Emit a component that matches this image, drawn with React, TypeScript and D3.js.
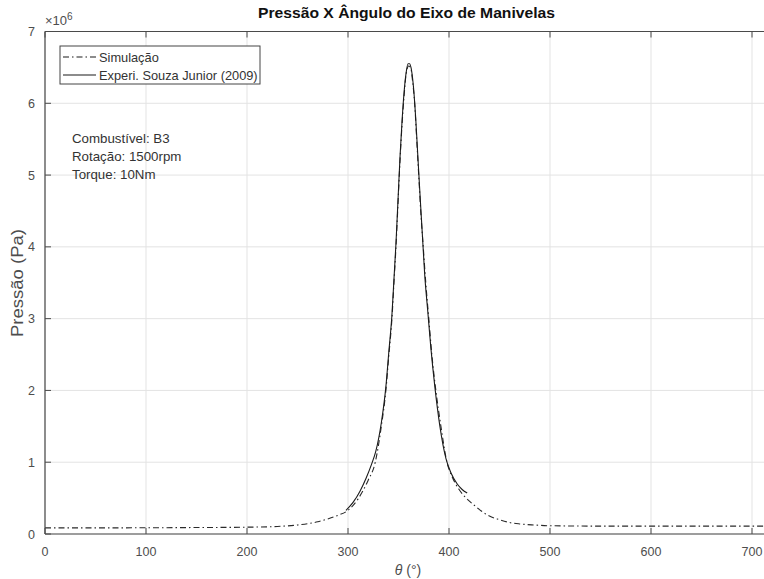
import React from "react";
import * as d3 from "d3";

const simTheta = [0, 50, 100, 150, 200, 230, 250, 270, 280, 290, 300, 310, 320, 327, 333, 337.5, 340.5, 343.5, 345.5, 347.5, 349.5, 351.5, 353.5, 355.5, 357.5, 360, 362, 364, 366, 368, 370, 372, 374.5, 377, 380, 383, 387, 392, 398, 403, 410, 417, 425, 432, 440, 450, 460, 470, 485, 500, 550, 600, 650, 720];
const simP = [0.085, 0.085, 0.087, 0.09, 0.095, 0.105, 0.125, 0.17, 0.21, 0.26, 0.33, 0.49, 0.75, 1.0, 1.5, 2.0, 2.5, 3.0, 3.5, 4.0, 4.6, 5.2, 5.7, 6.1, 6.4, 6.52, 6.5, 6.3, 6.0, 5.5, 5.0, 4.5, 4.0, 3.5, 3.0, 2.5, 2.0, 1.5, 1.0, 0.8, 0.62, 0.5, 0.4, 0.32, 0.25, 0.2, 0.16, 0.14, 0.125, 0.115, 0.11, 0.11, 0.11, 0.11];

const expTheta = [298, 305, 312, 318, 323, 327.5, 333, 337.5, 340.5, 343.5, 345.5, 347.5, 349.5, 351.5, 353.5, 355.5, 357.5, 359.5, 361, 363, 365, 367, 369, 371, 373.5, 376, 379, 382, 386, 391, 397, 402, 408, 413, 418];
const expP = [0.33, 0.44, 0.6, 0.78, 0.96, 1.15, 1.55, 2.05, 2.55, 3.05, 3.55, 4.05, 4.65, 5.25, 5.75, 6.15, 6.42, 6.55, 6.55, 6.45, 6.2, 5.8, 5.3, 4.8, 4.2, 3.6, 3.1, 2.6, 2.05, 1.5, 1.05, 0.85, 0.7, 0.62, 0.57];

const xTicks = [0, 100, 200, 300, 400, 500, 600, 700];
const yTicks = [0, 1, 2, 3, 4, 5, 6, 7];
const legendLabels = ["Simulação", "Experi. Souza Junior (2009)"];
const noteLines = ["Combustível: B3", "Rotação: 1500rpm", "Torque: 10Nm"];

export default function App() {
  const W = 764, H = 579;
  const L = 45, R = 772.2, T = 31.5, B = 534;
  const x = d3.scaleLinear().domain([0, 720]).range([L, R]);
  const y = d3.scaleLinear().domain([0, 7]).range([B, T]);
  const line = d3.line<[number, number]>().x(d => x(d[0])).y(d => y(d[1])).curve(d3.curveMonotoneX);
  const simPath = line(simTheta.map((t, i) => [t, simP[i]]) as [number, number][]) || "";
  const expPath = line(expTheta.map((t, i) => [t, expP[i]]) as [number, number][]) || "";
  const font = "'Liberation Sans', Arial, sans-serif";
  const axisCol = "#4a4a4a";
  const textCol = "#4d4d4d";
  const gridCol = "#e3e3e3";
  return (
    <svg width={W} height={H} style={{ position: "absolute", left: 0, top: 0, background: "#fff" }} fontFamily={font}>
      <rect x={0} y={0} width={W} height={H} fill="#fff" />
      <defs>
        <clipPath id="plotclip"><rect x={L} y={T} width={R - L} height={B - T} /></clipPath>
      </defs>
      {xTicks.map(t => (
        <line key={"gx" + t} x1={x(t)} x2={x(t)} y1={T} y2={B} stroke={gridCol} strokeWidth={1} />
      ))}
      {yTicks.map(t => (
        <line key={"gy" + t} x1={L} x2={R} y1={y(t)} y2={y(t)} stroke={gridCol} strokeWidth={1} />
      ))}
      <g clipPath="url(#plotclip)">
        <path d={simPath} fill="none" stroke="#2a2a2a" strokeWidth={1.1} strokeDasharray="6 3 1.5 3" />
        <path d={expPath} fill="none" stroke="#1a1a1a" strokeWidth={1.1} />
      </g>
      <line x1={L} x2={R} y1={B} y2={B} stroke={axisCol} strokeWidth={1.2} />
      <line x1={L} x2={R} y1={T} y2={T} stroke={axisCol} strokeWidth={1.2} />
      <line x1={L} x2={L} y1={T} y2={B} stroke={axisCol} strokeWidth={1.2} />
      <line x1={R} x2={R} y1={T} y2={B} stroke={axisCol} strokeWidth={1.2} />
      {xTicks.map(t => (
        <g key={"xt" + t}>
          <line x1={x(t)} x2={x(t)} y1={B} y2={B - 6} stroke={axisCol} />
          <line x1={x(t)} x2={x(t)} y1={T} y2={T + 6} stroke={axisCol} />
          <text x={x(t)} y={B + 22} textAnchor="middle" fontSize={12.5} fill={textCol}>{t}</text>
        </g>
      ))}
      {yTicks.map(t => (
        <g key={"yt" + t}>
          <line x1={L} x2={L + 6} y1={y(t)} y2={y(t)} stroke={axisCol} />
          <text x={L - 10} y={y(t) + 4.5} textAnchor="end" fontSize={12.5} fill={textCol}>{t}</text>
        </g>
      ))}
      <text x={L} y={25} fontSize={13} fill={textCol}>
        ×10<tspan dy={-5.5} fontSize={10}>6</tspan>
      </text>
      <text x={406.5} y={17.5} textAnchor="middle" fontSize={15} fontWeight="bold" fill="#111" textLength={297} lengthAdjust="spacingAndGlyphs">Pressão X Ângulo do Eixo de Manivelas</text>
      <text x={408} y={575} textAnchor="middle" fontSize={14} fill={textCol}>
        <tspan fontStyle="italic">θ</tspan> (°)
      </text>
      <text transform={`translate(23,${283}) rotate(-90)`} textAnchor="middle" fontSize={16} fill={textCol} textLength={108} lengthAdjust="spacingAndGlyphs">Pressão (Pa)</text>
      <rect x={60} y={46} width={200} height={38} fill="#fff" stroke="#444" strokeWidth={1} />
      {legendLabels.map((lab, i) => (
        <g key={lab}>
          <line x1={63} x2={96} y1={57 + i * 18} y2={57 + i * 18} stroke="#1a1a1a" strokeWidth={1.1} strokeDasharray={i === 0 ? "6 3 1.5 3" : undefined} />
          <text x={99} y={61.5 + i * 18} fontSize={12.8} fill="#333">{lab}</text>
        </g>
      ))}
      {noteLines.map((s, i) => (
        <text key={s} x={72} y={142.5 + i * 18} fontSize={13.3} fill="#333">{s}</text>
      ))}
    </svg>
  );
}
